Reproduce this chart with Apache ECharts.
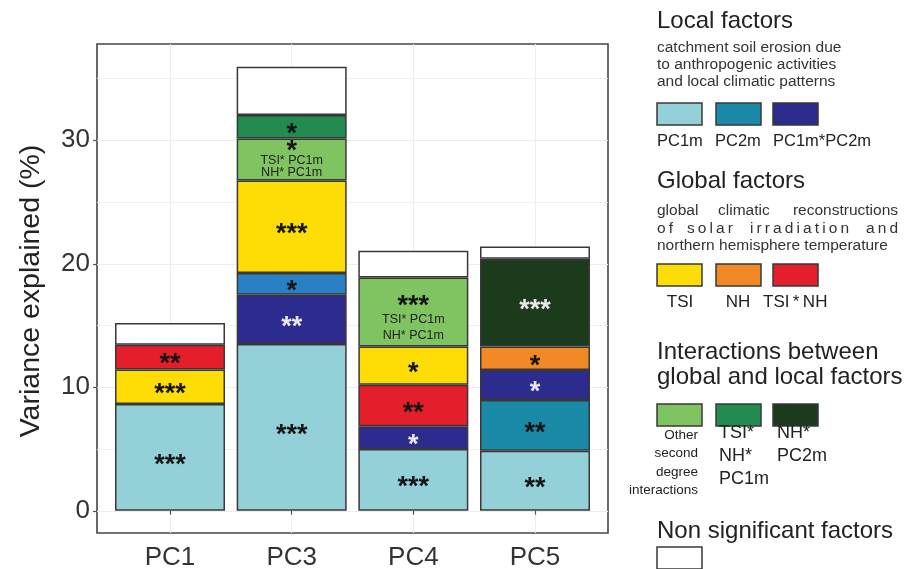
<!DOCTYPE html>
<html>
<head>
<meta charset="utf-8">
<script src="https://cdn.jsdelivr.net/npm/echarts@6/dist/echarts.min.js"></script>
<style>
  html, body { margin: 0; padding: 0; background: #ffffff; }
  #chart { width: 914px; height: 569px; }
</style>
</head>
<body>
<div id="chart"></div>
<script>
// ---- data: variance explained (%) per principal component, one array per factor ----
const categories = ['PC1', 'PC3', 'PC4', 'PC5'];
const yTicks = [0, 10, 20, 30];
const yMinorLines = [5, 15, 25, 35];

const pc1m        = [8.65, 13.5, 5.0, 4.87];
const pc2m        = [null, null, null, 4.1];
const pc1mPc2m    = [null, 4.0, 1.85, 2.44];
const pc2mLocal   = [null, 1.75, null, null];
const tsiNhLower  = [null, null, 3.35, null];
const tsi         = [2.8, 7.5, 3.1, null];
const tsiNhUpper  = [2.0, null, null, null];
const nh          = [null, null, null, 1.89];
const otherSecond = [null, 3.4, 5.6, null];
const tsiNhPc1m   = [null, 1.9, null, null];
const nhPc2m      = [null, null, null, 7.11];
const nonSignif   = [1.75, 3.9, 2.15, 1.0];

// significance codes written on each segment
const pc1mStars        = ['***', '***', '***', '**'];
const pc2mStars        = [null, null, null, '**'];
const pc1mPc2mStars    = [null, '**', '*', '*'];
const pc2mLocalStars   = [null, '*', null, null];
const tsiNhLowerStars  = [null, null, '**', null];
const tsiStars         = ['***', '***', '*', null];
const tsiNhUpperStars  = ['**', null, null, null];
const nhStars          = [null, null, null, '*'];
const otherSecondStars = [null, '*', '***', null];
const tsiNhPc1mStars   = [null, '*', null, null];
const nhPc2mStars      = [null, null, null, '***'];
const otherSecondTerms = [null, ['TSI* PC1m', 'NH* PC1m'], ['TSI* PC1m', 'NH* PC1m'], null];

// ---- styling ----
const FONT = '"Liberation Sans", Arial, Helvetica, sans-serif';
const EDGE = '#383838';
const COL = {
  pc1m: '#93d0d8', pc2m: '#1a8aa8', pc1mPc2m: '#2e2b8e', pc2mLocal: '#2a80c4',
  tsi: '#fedc05', nh: '#f18a24', tsiNh: '#e41e2b',
  other: '#7fc461', tsiNhPc1m: '#228b50', nhPc2m: '#1c3b1d', ns: '#ffffff'
};
const DARK_TXT = '#151515';
const LIGHT_TXT = '#e8e8e8';
const STAR_SIZE = 27;

// panel geometry: discrete axis padded by 0.6 of a category on each side
const PANEL = { left: 97, top: 44, width: 511, height: 489 };
const PAD = 0.6;
const step = PANEL.width / (categories.length - 1 + 2 * PAD);
const Y_MIN = -1.8, Y_MAX = 37.8;

// stacking order, bottom to top
const layers = [
  { name: 'PC1m',           values: pc1m,        stars: pc1mStars,        color: COL.pc1m,      txt: DARK_TXT },
  { name: 'PC2m',           values: pc2m,        stars: pc2mStars,        color: COL.pc2m,      txt: DARK_TXT },
  { name: 'PC1m*PC2m',      values: pc1mPc2m,    stars: pc1mPc2mStars,    color: COL.pc1mPc2m,  txt: LIGHT_TXT },
  { name: 'PC2m local',     values: pc2mLocal,   stars: pc2mLocalStars,   color: COL.pc2mLocal, txt: DARK_TXT },
  { name: 'TSI*NH (lower)', values: tsiNhLower,  stars: tsiNhLowerStars,  color: COL.tsiNh,     txt: DARK_TXT },
  { name: 'TSI',            values: tsi,         stars: tsiStars,         color: COL.tsi,       txt: DARK_TXT },
  { name: 'TSI*NH',         values: tsiNhUpper,  stars: tsiNhUpperStars,  color: COL.tsiNh,     txt: DARK_TXT },
  { name: 'NH',             values: nh,          stars: nhStars,          color: COL.nh,        txt: DARK_TXT },
  { name: 'Other second',   values: otherSecond, stars: otherSecondStars, color: COL.other,     txt: DARK_TXT, terms: otherSecondTerms },
  { name: 'TSI*NH*PC1m',    values: tsiNhPc1m,   stars: tsiNhPc1mStars,   color: COL.tsiNhPc1m, txt: DARK_TXT },
  { name: 'NH*PC2m',        values: nhPc2m,      stars: nhPc2mStars,      color: COL.nhPc2m,    txt: LIGHT_TXT },
  { name: 'Non significant',values: nonSignif,   stars: [null, null, null, null], color: COL.ns, txt: DARK_TXT }
];

// per-segment layout of the stacked star + term labels
const termLayout = [null, { starLH: 4, termLH: 12.5, dy: 5 }, { starLH: 10.5, termLH: 16, dy: 10.5 }, null];

const barSeries = layers.map(function (L) {
  return {
    name: L.name,
    type: 'bar',
    stack: 'total',
    xAxisIndex: 1,
    yAxisIndex: 1,
    barWidth: Math.round(step * 0.9),
    z: 2,
    itemStyle: { color: L.color, borderColor: EDGE, borderWidth: 1.5 },
    emphasis: { disabled: true },
    label: {
      show: true,
      position: 'inside',
      offset: [0, 8],
      fontFamily: FONT,
      fontWeight: 'bold',
      fontSize: STAR_SIZE,
      color: L.txt,
      formatter: function (p) {
        const st = L.stars[p.dataIndex] || '';
        if (L.terms && L.terms[p.dataIndex]) {
          return '{s|' + st + '}\n' + L.terms[p.dataIndex].map(function (t) { return '{t|' + t + '}'; }).join('\n');
        }
        return st;
      }
    },
    data: L.values.map(function (v, i) {
      const item = { value: v === null ? '-' : v };
      if (L.terms && L.terms[i]) {
        const lay = termLayout[i];
        item.label = {
          offset: [0, lay.dy],
          rich: {
            s: { fontFamily: FONT, fontWeight: 'bold', fontSize: STAR_SIZE, lineHeight: lay.starLH, color: L.txt },
            t: { fontFamily: FONT, fontWeight: 'normal', fontSize: 12.5, lineHeight: lay.termLH, color: '#222222' }
          }
        };
      }
      return item;
    })
  };
});

// minor horizontal grid lines of the panel
const minorGrid = {
  name: 'minor grid',
  type: 'line',
  xAxisIndex: 0,
  yAxisIndex: 0,
  data: [],
  silent: true,
  z: 1,
  markLine: {
    silent: true,
    symbol: 'none',
    z: 1,
    label: { show: false },
    lineStyle: { color: '#f1f1f1', type: 'solid', width: 1 },
    emphasis: { disabled: true },
    data: yMinorLines.map(function (v) { return { yAxis: v }; })
  }
};

// ---- legend drawn as graphic elements on the right ----
const LX = 657;
function txt(text, x, y, size, opts) {
  opts = opts || {};
  return {
    type: 'text', x: x, y: y, silent: true,
    style: {
      text: text,
      font: size + 'px ' + FONT,
      fill: opts.fill || '#222222',
      align: opts.align || 'left',
      verticalAlign: 'middle'
    }
  };
}
function box(x, y, color) {
  return {
    type: 'rect', silent: true,
    shape: { x: x, y: y, width: 45, height: 22 },
    style: { fill: color, stroke: EDGE, lineWidth: 1.5 }
  };
}
const boxX = [LX, 716, 773];
const SUB = 15.5;
const SUBC = '#333333';

const graphic = [
  // y-axis title
  { type: 'text', x: 31, y: 291, rotation: Math.PI / 2, silent: true,
    style: { text: 'Variance explained (%)', font: '28.5px ' + FONT, fill: '#222222', align: 'center', verticalAlign: 'middle' } },

  // local factors
  txt('Local factors', LX, 21, 24),
  txt('catchment soil erosion due', LX, 48, SUB, { fill: SUBC }),
  txt('to anthropogenic activities', LX, 65, SUB, { fill: SUBC }),
  txt('and local climatic patterns', LX, 82, SUB, { fill: SUBC }),
  box(boxX[0], 103, COL.pc1m), box(boxX[1], 103, COL.pc2m), box(boxX[2], 103, COL.pc1mPc2m),
  txt('PC1m', boxX[0], 141, 16.5), txt('PC2m', 715, 141, 16.5), txt('PC1m*PC2m', boxX[2], 141, 16.5),

  // global factors
  txt('Global factors', LX, 181, 24),
  txt('global', LX, 211, SUB, { fill: SUBC }),
  txt('climatic', 718, 211, SUB, { fill: SUBC }),
  txt('reconstructions', 898, 211, SUB, { fill: SUBC, align: 'right' }),
  txt('o\u2009f', LX, 228.5, SUB, { fill: SUBC }),
  txt('s\u2009o\u2009l\u2009a\u2009r', 687, 228.5, SUB, { fill: SUBC }),
  txt('i\u2009r\u2009r\u2009a\u2009d\u2009i\u2009a\u2009t\u2009i\u2009o\u2009n', 750, 228.5, SUB, { fill: SUBC }),
  txt('a\u2009n\u2009d', 898, 228.5, SUB, { fill: SUBC, align: 'right' }),
  txt('northern hemisphere temperature', LX, 246, SUB, { fill: SUBC }),
  box(boxX[0], 264, COL.tsi), box(boxX[1], 264, COL.nh), box(boxX[2], 264, COL.tsiNh),
  txt('TSI', 680, 302, 17, { align: 'center' }), txt('NH', 738, 302, 17, { align: 'center' }),
  txt('TSI\u2009*\u2009NH', 763, 302, 17),

  // interactions
  txt('Interactions between', LX, 352, 24),
  txt('global and local factors', LX, 377, 24),
  box(boxX[0], 404, COL.other), box(boxX[1], 404, COL.tsiNhPc1m), box(boxX[2], 404, COL.nhPc2m),
  txt('Other', 698, 435, 13.5, { align: 'right' }),
  txt('second', 698, 453.5, 13.5, { align: 'right' }),
  txt('degree', 698, 472, 13.5, { align: 'right' }),
  txt('interactions', 698, 490.5, 13.5, { align: 'right' }),
  txt('TSI*', 719, 433, 18), txt('NH*', 719, 456, 18), txt('PC1m', 719, 479, 18),
  txt('NH*', 777, 433, 18), txt('PC2m', 777, 456, 18),

  // non significant
  txt('Non significant factors', LX, 531, 24),
  { type: 'rect', silent: true, shape: { x: LX, y: 547, width: 45, height: 22 },
    style: { fill: COL.ns, stroke: EDGE, lineWidth: 1.5 } }
];

const option = {
  backgroundColor: '#ffffff',
  animation: false,
  grid: [
    // panel: frame, ticks, labels and grid lines
    { left: PANEL.left, top: PANEL.top, width: PANEL.width, height: PANEL.height,
      outerBoundsMode: 'none', containLabel: false,
      show: true, borderColor: '#454545', borderWidth: 1.6, backgroundColor: 'transparent' },
    // bars: one band per category, inset by the padding
    { left: PANEL.left + (PAD - 0.5) * step, top: PANEL.top,
      width: step * categories.length, height: PANEL.height,
      outerBoundsMode: 'none', containLabel: false }
  ],
  xAxis: [
    {
      type: 'value', gridIndex: 0,
      min: 1 - PAD, max: categories.length + PAD,
      axisLine: { show: false },
      axisTick: { show: true, customValues: [1, 2, 3, 4], length: 4, lineStyle: { color: '#555555', width: 1.2 } },
      axisLabel: {
        customValues: [1, 2, 3, 4],
        margin: 12,
        fontFamily: FONT, fontSize: 26, color: '#333333',
        formatter: function (v) { return categories[Math.round(v) - 1] || ''; }
      },
      splitLine: { show: true, lineStyle: { color: '#ededed', width: 1 } }
    },
    {
      type: 'category', gridIndex: 1, data: categories,
      axisLine: { show: false }, axisTick: { show: false }, axisLabel: { show: false },
      splitLine: { show: false }
    }
  ],
  yAxis: [
    {
      type: 'value', gridIndex: 0,
      min: Y_MIN, max: Y_MAX,
      axisLine: { show: false },
      axisTick: { show: true, customValues: yTicks, length: 4, lineStyle: { color: '#555555', width: 1.2 } },
      axisLabel: {
        customValues: yTicks,
        margin: 7,
        fontFamily: FONT, fontSize: 26, color: '#333333'
      },
      splitLine: { show: true, lineStyle: { color: '#ededed', width: 1 } }
    },
    {
      type: 'value', gridIndex: 1,
      min: Y_MIN, max: Y_MAX,
      axisLine: { show: false }, axisTick: { show: false }, axisLabel: { show: false },
      splitLine: { show: false }
    }
  ],
  series: [minorGrid].concat(barSeries),
  graphic: graphic
};

const chart = echarts.init(document.getElementById('chart'), null, { renderer: 'canvas' });
chart.setOption(option);
</script>
</body>
</html>
